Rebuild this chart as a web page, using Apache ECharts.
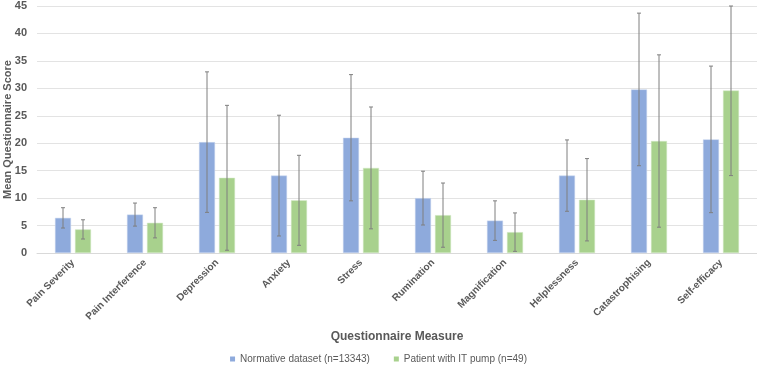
<!DOCTYPE html>
<html>
<head>
<meta charset="utf-8">
<script src="https://cdn.jsdelivr.net/npm/echarts@6/dist/echarts.min.js"></script>
<style>
  html, body { margin: 0; padding: 0; background: #fff; }
  #chart { width: 757px; height: 365px; }
</style>
</head>
<body>
<div id="chart"></div>
<script>
const measures = ['Pain Severity', 'Pain Interference', 'Depression', 'Anxiety', 'Stress',
  'Rumination', 'Magnification', 'Helplessness', 'Catastrophising', 'Self-efficacy'];
const normMean = [6.4, 7.0, 20.2, 14.1, 21.0, 10.0, 5.9, 14.1, 29.8, 20.7];
const normSd = [1.85, 2.1, 12.8, 11.0, 11.5, 4.9, 3.6, 6.5, 13.9, 13.35];
const pumpMean = [4.3, 5.5, 13.7, 9.6, 15.5, 6.9, 3.8, 9.7, 20.4, 29.6];
const pumpSd = [1.75, 2.75, 13.2, 8.2, 11.1, 5.85, 3.5, 7.5, 15.7, 15.5];
const seriesNames = ['Normative dataset (n=13343)', 'Patient with IT pump (n=49)'];
const yTicks = [0, 5, 10, 15, 20, 25, 30, 35, 40, 45];

const blue = '#8eaadc';
const green = '#a8d18d';
const textGray = '#595959';
const font = 'Liberation Sans';

const errRows = (means, sds) => means.map((m, i) => [i, Math.max(0, m - sds[i]), Math.min(45, m + sds[i])]);

// whisker drawn at bar centre, offset = (barWidth + gap) / 2
const whisker = (offset) => (params, api) => {
  const lo = api.coord([api.value(0), api.value(1)]);
  const hi = api.coord([api.value(0), api.value(2)]);
  const x = lo[0] + offset;
  const style = { stroke: '#7f7f7f', lineWidth: 1 };
  return {
    type: 'group',
    children: [
      { type: 'line', shape: { x1: x, y1: lo[1], x2: x, y2: hi[1] }, style },
      { type: 'line', shape: { x1: x - 2, y1: lo[1], x2: x + 2, y2: lo[1] }, style },
      { type: 'line', shape: { x1: x - 2, y1: hi[1], x2: x + 2, y2: hi[1] }, style }
    ]
  };
};

const chart = echarts.init(document.getElementById('chart'));
chart.setOption({
  animation: false,
  textStyle: { fontFamily: font },
  grid: { left: 37, right: 0, top: 6, bottom: 112, containLabel: false, outerBoundsMode: 'none' },
  legend: {
    data: seriesNames,
    top: 349,
    left: 'center',
    itemWidth: 5,
    itemHeight: 5,
    itemGap: 24,
    icon: 'rect',
    itemStyle: { borderWidth: 0 },
    textStyle: { color: textGray, fontSize: 10, fontFamily: font }
  },
  xAxis: {
    type: 'category',
    data: measures,
    name: 'Questionnaire Measure',
    nameLocation: 'middle',
    nameGap: 78,
    nameMoveOverlap: false,
    nameTextStyle: { color: textGray, fontSize: 12, fontWeight: 'bold', fontFamily: font, verticalAlign: 'top' },
    axisTick: { show: false },
    axisLine: { lineStyle: { color: '#d9d9d9' } },
    axisLabel: {
      rotate: 45,
      interval: 0,
      margin: 8,
      color: textGray,
      fontSize: 10,
      fontWeight: 'bold',
      fontFamily: font
    }
  },
  yAxis: {
    type: 'value',
    min: yTicks[0],
    max: yTicks[yTicks.length - 1],
    interval: 5,
    name: 'Mean Questionnaire Score',
    nameLocation: 'middle',
    nameGap: 24,
    nameMoveOverlap: false,
    nameTextStyle: { color: textGray, fontSize: 11, fontWeight: 'bold', fontFamily: font },
    axisLine: { show: false },
    axisTick: { show: false },
    axisLabel: { color: textGray, fontSize: 11, fontWeight: 'bold', margin: 10, fontFamily: font },
    splitLine: { lineStyle: { color: '#e3e3e3' } }
  },
  series: [
    {
      name: seriesNames[0],
      type: 'bar',
      data: normMean,
      barWidth: 16,
      barGap: '25%',
      itemStyle: { color: blue, borderColor: '#c9d6ef', borderWidth: 0.5 }
    },
    {
      name: seriesNames[1],
      type: 'bar',
      data: pumpMean,
      barWidth: 16,
      barGap: '25%',
      itemStyle: { color: green, borderColor: '#d3e8c6', borderWidth: 0.5 }
    },
    {
      type: 'custom',
      name: 'normErr',
      data: errRows(normMean, normSd),
      renderItem: whisker(-10),
      encode: { x: 0, y: [1, 2] },
      z: 10
    },
    {
      type: 'custom',
      name: 'pumpErr',
      data: errRows(pumpMean, pumpSd),
      renderItem: whisker(10),
      encode: { x: 0, y: [1, 2] },
      z: 10
    }
  ]
});
</script>
</body>
</html>
